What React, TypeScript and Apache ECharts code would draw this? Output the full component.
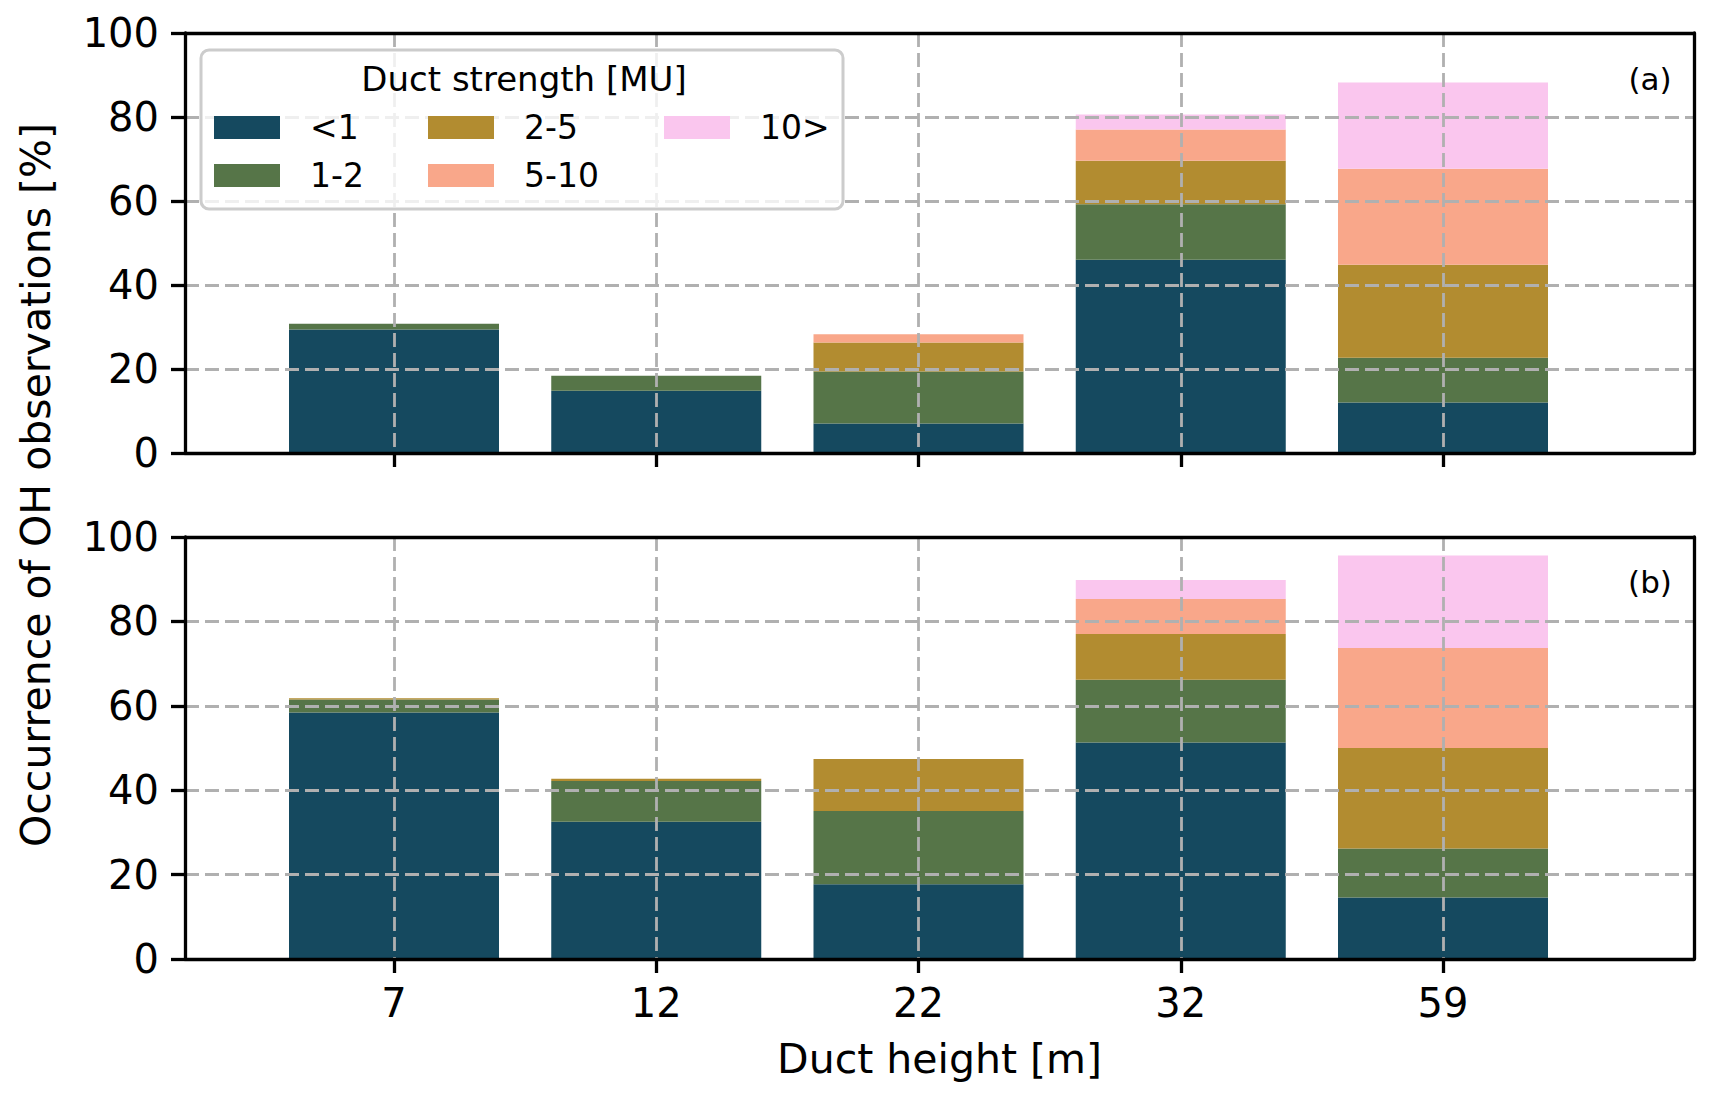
import React, { useEffect, useRef } from 'react';
import * as echarts from 'echarts';

const FONT = 'DejaVu Sans';

// duct heights [m] (x categories)
const heights = ['7', '12', '22', '32', '59'];
// duct strength classes [MU]
const groups = ['<1', '1-2', '2-5', '5-10', '10>'];
const colors = ['#15495f', '#567548', '#b28c30', '#f9a78a', '#fac6ee'];

// panel (a), occurrence [%] per class
const aLt1 = [29.4, 14.8, 7.0, 46.0, 12.0];
const a1to2 = [1.4, 3.6, 12.4, 13.2, 10.7];
const a2to5 = [0, 0, 6.9, 10.4, 22.1];
const a5to10 = [0, 0, 2.0, 7.4, 22.9];
const aGt10 = [0, 0, 0, 3.6, 20.5];

// panel (b)
const bLt1 = [58.4, 32.5, 17.7, 51.3, 14.6];
const b1to2 = [3.1, 9.7, 17.4, 14.9, 11.6];
const b2to5 = [0.3, 0.5, 12.3, 10.8, 23.8];
const b5to10 = [0, 0, 0, 8.3, 23.7];
const bGt10 = [0, 0, 0, 4.5, 21.9];

const panels = [
  [aLt1, a1to2, a2to5, a5to10, aGt10],
  [bLt1, b1to2, b2to5, b5to10, bGt10],
];

const panelTop = [33, 537];
const panelH = [420, 422];

const gridLine = { color: '#b0b0b0', width: 2.8, type: [14, 6] as number[] };
const spine = { color: '#000', width: 3.3 };

const App: React.FC = () => {
  const chartRef = useRef<HTMLDivElement>(null);

  useEffect(() => {
    document.body.style.margin = '0';
    if (!chartRef.current) return;
    const myChart = echarts.init(chartRef.current, null, { renderer: 'svg' });

    const grid: any[] = [];
    const xAxis: any[] = [];
    const yAxis: any[] = [];
    const series: any[] = [];

    panels.forEach((vals, p) => {
      const isBottom = p === 1;
      const frame = 3 * p;
      // frame grid: spines, y ticks and horizontal grid lines
      grid.push({ left: 185, width: 1509, top: panelTop[p], height: panelH[p] });
      // bar grid: spans from first to last category
      grid.push({ left: 394, width: 1049, top: panelTop[p], height: panelH[p] });

      // bottom spine + x title
      xAxis.push({
        type: 'value', gridIndex: 2 * p, position: 'bottom', min: 0, max: 1, z: 4,
        axisLine: { show: true, onZero: false, lineStyle: spine },
        axisTick: { show: false }, axisLabel: { show: false }, splitLine: { show: false },
        name: isBottom ? 'Duct height [m]' : '',
        nameLocation: 'middle', nameGap: 79,
        nameTextStyle: { fontSize: 41, fontFamily: FONT, color: '#000' },
      });
      // top spine
      xAxis.push({
        type: 'value', gridIndex: 2 * p, position: 'top', min: 0, max: 1, z: 4,
        axisLine: { show: true, onZero: false, lineStyle: spine },
        axisTick: { show: false }, axisLabel: { show: false }, splitLine: { show: false },
      });
      // categories
      xAxis.push({
        type: 'category', gridIndex: 2 * p + 1, data: heights, boundaryGap: false, z: 3,
        axisLine: { show: false },
        axisTick: { show: true, length: 14, lineStyle: spine },
        axisLabel: { show: isBottom, fontSize: 40, fontFamily: FONT, color: '#000', margin: 24 },
        splitLine: { show: true, lineStyle: gridLine },
      });

      yAxis.push({
        type: 'value', gridIndex: 2 * p, position: 'left', min: 0, max: 100, interval: 20, z: 3,
        axisLine: { show: true, onZero: false, lineStyle: spine },
        axisTick: { show: true, length: 14, lineStyle: spine },
        axisLabel: { fontSize: 40, fontFamily: FONT, color: '#000', margin: 26 },
        splitLine: { show: true, lineStyle: gridLine },
      });
      // right spine
      yAxis.push({
        type: 'value', gridIndex: 2 * p, position: 'right', min: 0, max: 100, z: 4,
        axisLine: { show: true, onZero: false, lineStyle: spine },
        axisTick: { show: false }, axisLabel: { show: false }, splitLine: { show: false },
      });
      yAxis.push({ type: 'value', gridIndex: 2 * p + 1, min: 0, max: 100, show: false });

      vals.forEach((v, g) => {
        series.push({
          name: groups[g], type: 'bar', xAxisIndex: frame + 2, yAxisIndex: frame + 2,
          stack: 'panel' + p, barWidth: 210, clip: false, z: 2, silent: true,
          itemStyle: { color: colors[g] },
          data: v,
        });
      });
    });

    const legendBase = {
      orient: 'vertical', top: 111, itemWidth: 66, itemHeight: 23, itemGap: 15,
      padding: 0, icon: 'rect', z: 12, selectedMode: false,
      textStyle: { fontSize: 33, fontFamily: FONT, color: '#000', lineHeight: 33, padding: [0, 0, 0, 25] },
    };

    const option = {
      animation: false,
      textStyle: { fontFamily: FONT },
      grid, xAxis, yAxis, series,
      legend: [
        { ...legendBase, left: 214, data: ['<1', '1-2'] },
        { ...legendBase, left: 428, data: ['2-5', '5-10'] },
        { ...legendBase, left: 664, data: ['10>'] },
      ],
      graphic: [
        {
          type: 'rect', z: 10, silent: true,
          shape: { x: 201, y: 50, width: 642, height: 159, r: 8 },
          style: { fill: 'rgba(255,255,255,0.8)', stroke: '#cccccc', lineWidth: 3 },
        },
        {
          type: 'text', z: 11, x: 524, y: 79,
          style: { text: 'Duct strength [MU]', fontSize: 34, fontFamily: FONT, fill: '#000', align: 'center', verticalAlign: 'middle' },
        },
        {
          type: 'text', z: 11, x: 1650, y: 79,
          style: { text: '(a)', fontSize: 31, fontFamily: FONT, fill: '#000', align: 'center', verticalAlign: 'middle' },
        },
        {
          type: 'text', z: 11, x: 1650, y: 582,
          style: { text: '(b)', fontSize: 31, fontFamily: FONT, fill: '#000', align: 'center', verticalAlign: 'middle' },
        },
        {
          type: 'text', z: 11, x: 36, y: 485, rotation: Math.PI / 2,
          style: { text: 'Occurrence of OH observations [%]', fontSize: 41, fontFamily: FONT, fill: '#000', align: 'center', verticalAlign: 'middle' },
        },
      ],
    };

    myChart.setOption(option);

    return () => {
      myChart.dispose();
    };
  }, []);

  return <div ref={chartRef} style={{ width: '1715px', height: '1099px' }}></div>;
};

export default App;
